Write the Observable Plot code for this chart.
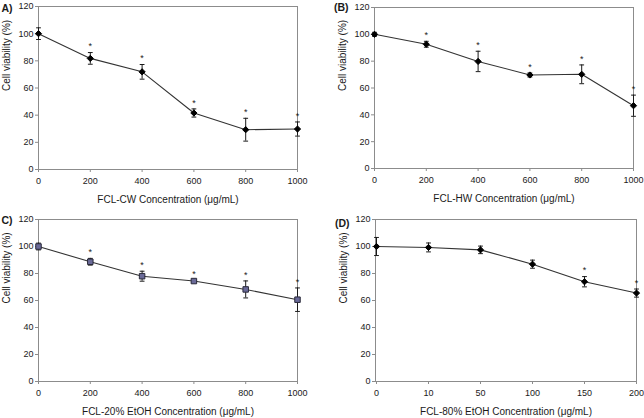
<!DOCTYPE html>
<html>
<head>
<meta charset="utf-8">
<script src="https://cdn.jsdelivr.net/npm/d3@7"></script>
<script src="https://cdn.jsdelivr.net/npm/@observablehq/plot@0.6"></script>
<style>
  html, body { margin: 0; padding: 0; background: #fff; }
  #figure { position: relative; width: 644px; height: 418px; overflow: hidden; background: #fff; }
  .panel { position: absolute; width: 322px; height: 209px; }
</style>
</head>
<body>
<div id="figure">
  <div class="panel" id="pA" style="left:0;top:0"></div>
  <div class="panel" id="pB" style="left:322px;top:0"></div>
  <div class="panel" id="pC" style="left:0;top:209px"></div>
  <div class="panel" id="pD" style="left:322px;top:209px"></div>
</div>
<script>
// Cell viability (%) of four FCL extracts, mean ± error, * = significant
const concLinear = [0, 200, 400, 600, 800, 1000];
const conc80 = ["0", "10", "50", "100", "150", "200"];
const yTicks = [0, 20, 40, 60, 80, 100, 120];

const viabilityCW = [100, 81.8, 71.9, 41.6, 29.3, 29.8];
const errorCW = [4.3, 4.3, 5.4, 3.0, 8.4, 5.2];
const signifCW = [false, true, true, true, true, true];

const viabilityHW = [100, 92.6, 79.8, 69.7, 70.2, 46.8];
const errorHW = [1.5, 2.2, 7.6, 1.5, 7.0, 7.9];
const signifHW = [false, true, true, true, true, true];

const viabilityE20 = [100, 88.7, 78.0, 74.4, 68.2, 60.6];
const errorE20 = [2.5, 2.5, 3.7, 1.0, 6.3, 8.7];
const signifE20 = [false, true, true, true, true, true];

const viabilityE80 = [100, 99.3, 97.5, 86.9, 73.9, 65.5];
const errorE80 = [6.7, 3.3, 2.8, 3.0, 3.8, 3.0];
const signifE80 = [false, false, false, false, true, true];

const yTitle = "Cell viability (%)";
const xTitles = [
  "FCL-CW Concentration (μg/mL)",
  "FCL-HW Concentration (μg/mL)",
  "FCL-20% EtOH Concentration (μg/mL)",
  "FCL-80% EtOH Concentration (μg/mL)"
];
const panelLabels = ["A)", "(B)", "C)", "(D)"];

const frameColor = "#8c8c8c";
const inkColor = "#1a1a1a";
const font = "'Liberation Sans', Arial, Helvetica, sans-serif";

// short horizontal stroke used as an error-bar cap
const capSymbol = {
  draw(ctx) { ctx.moveTo(-2.4, 0); ctx.lineTo(2.4, 0); }
};

function rowsOf(xs, ys, es, sig) {
  return xs.map((x, i) => ({x, y: ys[i], e: es[i], sig: sig[i]}));
}

function panel({rows, xTitle, label, categorical, margins, labelDy, marker}) {
  const xScale = categorical
    ? {type: "point", domain: conc80, padding: 0}
    : {type: "linear", domain: [0, 1000]};
  const axisStyle = {tickSize: 3, stroke: frameColor, fill: inkColor, label: null, tickFormat: d => String(d)};
  return Plot.plot({
    width: 322,
    height: 209,
    ...margins,
    style: {fontFamily: font, fontSize: "9px", color: inkColor, background: "#fff"},
    x: xScale,
    y: {domain: [0, 120]},
    marks: [
      Plot.frame({stroke: frameColor}),
      Plot.axisY({...axisStyle, ticks: yTicks, tickPadding: 2}),
      categorical
        ? Plot.axisX({...axisStyle, tickPadding: 5})
        : Plot.axisX({...axisStyle, ticks: concLinear, tickPadding: 5}),
      Plot.line(rows, {x: "x", y: "y", stroke: "#333", strokeWidth: 1.1}),
      Plot.ruleX(rows, {x: "x", y1: d => d.y - d.e, y2: d => d.y + d.e, stroke: inkColor, strokeWidth: 1}),
      Plot.dot(rows, {x: "x", y: d => d.y + d.e, symbol: capSymbol, fill: "none", stroke: inkColor, strokeWidth: 1}),
      Plot.dot(rows, {x: "x", y: d => d.y - d.e, symbol: capSymbol, fill: "none", stroke: inkColor, strokeWidth: 1}),
      marker === "square"
        ? Plot.dot(rows, {x: "x", y: "y", symbol: "square", r: 3.1, fill: "#6a6a98", stroke: "#2a2a3a", strokeWidth: 1})
        : Plot.dot(rows, {x: "x", y: "y", symbol: "diamond2", r: 2.8, fill: "#000", stroke: "#000", strokeWidth: 1}),
      Plot.text(rows.filter(d => d.sig), {x: "x", y: d => d.y + d.e, text: () => "*", dy: -6, fontSize: 9, fill: inkColor}),
      Plot.text([xTitle], {text: d => d, frameAnchor: "bottom", lineAnchor: "middle", dy: 30, fontSize: 10, fill: inkColor}),
      Plot.text([yTitle], {text: d => d, frameAnchor: "left", lineAnchor: "middle", rotate: -90, dx: -32, dy: 3, fontSize: 10, fill: inkColor}),
      Plot.text([label], {text: d => d, frameAnchor: "top-left", textAnchor: "end", lineAnchor: "middle", dx: -26, dy: labelDy, fontSize: 10.5, fontWeight: "bold", fill: inkColor})
    ]
  });
}

document.getElementById("pA").append(panel({
  rows: rowsOf(concLinear, viabilityCW, errorCW, signifCW),
  xTitle: xTitles[0], label: panelLabels[0], categorical: false, marker: "diamond",
  margins: {marginLeft: 38, marginRight: 25, marginTop: 6, marginBottom: 40}, labelDy: 2
}));
document.getElementById("pB").append(panel({
  rows: rowsOf(concLinear, viabilityHW, errorHW, signifHW),
  xTitle: xTitles[1], label: panelLabels[1], categorical: false, marker: "diamond",
  margins: {marginLeft: 52, marginRight: 11, marginTop: 7, marginBottom: 41}, labelDy: 0.5
}));
document.getElementById("pC").append(panel({
  rows: rowsOf(concLinear, viabilityE20, errorE20, signifE20),
  xTitle: xTitles[2], label: panelLabels[2], categorical: false, marker: "square",
  margins: {marginLeft: 38, marginRight: 25, marginTop: 10, marginBottom: 37}, labelDy: 1
}));
document.getElementById("pD").append(panel({
  rows: rowsOf(conc80, viabilityE80, errorE80, signifE80),
  xTitle: xTitles[3], label: panelLabels[3], categorical: true, marker: "diamond",
  margins: {marginLeft: 53, marginRight: 8, marginTop: 10, marginBottom: 37}, labelDy: 4
}));
</script>
</body>
</html>
